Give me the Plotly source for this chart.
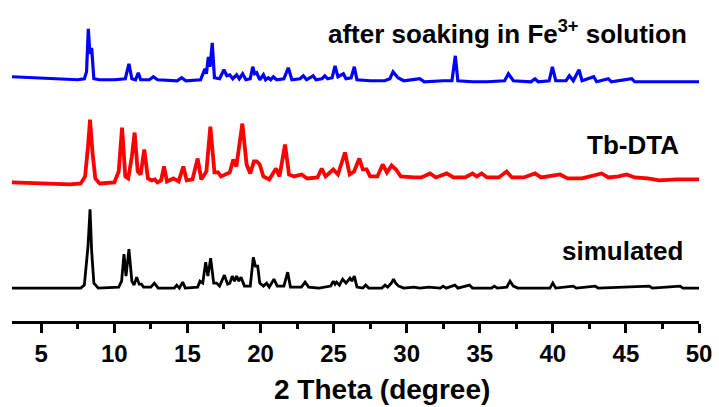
import plotly.graph_objects as go

# ---------------- data (2 Theta in degree, intensity in a.u.) ----------------
blue_x = [3.0, 4.5, 6.0, 7.5, 7.95, 8.1, 8.22, 8.33, 8.45, 8.6, 9.0, 10.0, 10.75, 11.0, 11.2, 11.45, 11.64, 11.8,
          12.4, 12.67, 12.95, 14.3, 14.6, 14.9, 15.9, 16.05, 16.2, 16.3, 16.43, 16.55, 16.7, 16.85, 17.2,
          17.5, 17.7, 17.9, 18.1, 18.37, 18.55, 18.78, 19.0, 19.3, 19.47, 19.6, 19.74, 19.95, 20.2, 20.35,
          20.54, 20.7, 20.88, 21.1, 21.6, 21.9, 22.15, 22.7, 22.93, 23.15, 23.6, 23.8, 24.2, 24.4, 24.6,
          24.9, 25.1, 25.3, 25.67, 25.85, 26.2, 26.42, 26.6, 27.5, 28.5, 28.85, 29.07, 29.4, 29.8, 30.9,
          31.2, 32.5, 33.1, 33.33, 33.5, 34.5, 35.5, 36.7, 36.96, 37.3, 38.5, 38.78, 39.0, 39.75, 39.97,
          40.2, 40.9, 41.13, 41.4, 41.79, 42.0, 42.8, 43.0, 43.8, 44.0, 45.4, 45.6, 47.0, 50.0]
blue_i = [35, 34, 33, 32, 33, 40, 83, 58, 64, 33, 32, 32, 33, 48, 33, 32, 39, 32,
          32, 35, 32, 31, 34, 31, 32, 38, 43, 38, 55, 45, 69, 34, 33,
          42, 36, 37, 33, 37, 33, 38, 32, 33, 45, 38, 39, 32, 37, 32,
          34, 32, 35, 32, 33, 44, 32, 33, 36, 32, 36, 32, 33, 36, 33,
          34, 46, 35, 38, 33, 34, 45, 32, 31, 31, 33, 40, 34, 31, 33,
          30, 31, 31, 56, 31, 30, 30, 31, 38, 31, 30, 33, 30, 31, 45,
          31, 31, 36, 31, 42, 31, 35, 30, 33, 30, 33, 30, 30, 30]

red_x = [3.0, 5.0, 7.0, 7.7, 8.0, 8.2, 8.34, 8.5, 8.7, 9.0, 10.0, 10.3, 10.53, 10.75, 10.95, 11.2, 11.39,
         11.6, 11.8, 12.05, 12.3, 12.55, 12.78, 12.95, 13.2, 13.4, 13.6, 14.04, 14.4, 14.72, 14.95, 15.35,
         15.7, 15.95, 16.3, 16.57, 16.85, 17.1, 17.3, 17.9, 18.14, 18.35, 18.76, 19.05, 19.3, 19.55, 19.74,
         19.95, 20.2, 20.6, 21.06, 21.3, 21.68, 21.95, 22.3, 22.82, 23.2, 23.9, 24.19, 24.45, 24.98, 25.3,
         25.78, 26.1, 26.4, 26.76, 27.0, 27.26, 27.5, 28.0, 28.36, 28.65, 28.97, 29.27, 29.6, 30.5, 31.0,
         31.6, 32.0, 32.74, 33.2, 34.0, 34.5, 34.8, 35.13, 35.5, 36.3, 36.84, 37.2, 38.0, 38.78, 39.2,
         40.5, 41.0, 42.0, 43.34, 43.8, 44.5, 45.05, 45.6, 46.5, 47.3, 48.5, 50.0]
red_i = [34, 33, 32, 33, 40, 70, 97, 65, 38, 33, 34, 45, 89, 40, 38, 60, 84,
         45, 42, 67, 38, 36, 37, 34, 36, 50, 35, 38, 35, 50, 36, 37,
         58, 37, 45, 90, 44, 44, 40, 44, 57, 50, 93, 52, 43, 55, 55,
         52, 40, 37, 48, 40, 72, 42, 40, 42, 38, 39, 48, 40, 47, 42,
         64, 42, 45, 58, 47, 47, 40, 40, 52, 44, 51, 47, 40, 39, 39,
         43, 39, 43, 39, 39, 43, 40, 43, 39, 39, 45, 39, 39, 43, 39,
         42, 38, 38, 43, 39, 40, 42, 39, 38, 36, 37, 37]

black_x = [3.0, 7.7, 7.95, 8.11, 8.2, 8.34, 8.45, 8.6, 8.9, 10.3, 10.5, 10.66, 10.8, 11.0, 11.2, 11.35,
           11.53, 11.7, 11.85, 12.0, 12.5, 12.74, 13.0, 14.1, 14.27, 14.45, 14.68, 14.85, 15.7, 15.86,
           16.05, 16.25, 16.4, 16.59, 16.8, 17.0, 17.2, 17.53, 17.75, 17.9, 18.07, 18.22, 18.37, 18.52,
           18.67, 18.9, 19.3, 19.51, 19.65, 19.81, 19.95, 20.2, 20.42, 20.6, 20.92, 21.15, 21.6, 21.86,
           22.05, 22.8, 23.05, 23.3, 24.0, 24.8, 24.98, 25.1, 25.2, 25.4, 25.62, 25.85, 26.12, 26.25,
           26.42, 26.6, 27.0, 27.2, 27.4, 28.3, 28.52, 28.7, 28.95, 29.1, 29.25, 29.45, 29.8, 30.5, 30.9,
           31.5, 32.3, 32.5, 32.7, 33.3, 33.5, 34.3, 34.5, 35.8, 36.0, 36.2, 36.85, 37.07, 37.3, 37.6,
           39.8, 40.0, 40.2, 41.4, 41.6, 42.9, 43.1, 46.6, 46.8, 48.7, 48.9, 50.0]
black_i = [33, 33, 36, 62, 75, 112, 70, 38, 33, 34, 40, 67, 45, 72, 40, 36,
           44, 37, 37, 34, 34, 38, 33, 33, 36, 33, 39, 33, 34, 40,
           38, 59, 45, 63, 38, 38, 35, 46, 37, 38, 45, 40, 45, 40,
           44, 35, 35, 64, 55, 55, 38, 35, 38, 34, 42, 35, 35, 49,
           34, 34, 39, 34, 33, 35, 40, 37, 39, 36, 42, 38, 43, 40,
           45, 34, 33, 36, 33, 33, 36, 34, 38, 42, 38, 35, 33, 34, 33,
           34, 33, 35, 33, 36, 33, 36, 33, 33, 35, 33, 34, 40, 35, 33,
           33, 38, 33, 35, 33, 35, 33, 35, 33, 35, 33, 33]

series_names = ["simulated", "Tb-DTA", "after soaking in Fe<sup>3+</sup> solution"]
tick_vals = [5, 10, 15, 20, 25, 30, 35, 40, 45, 50]
tick_text = ["5", "10", "15", "20", "25", "30", "35", "40", "45", "50"]
x_title = "2 Theta (degree)"

# ---------------- figure ----------------
offsets = [0, 105, 210]
colors = ["#000000", "#ff0000", "#0000ff"]
widths = [2.8, 3.8, 3.2]
xs = [black_x, red_x, blue_x]
ys = [black_i, red_i, blue_i]

fig = go.Figure()
for x, y, off, c, w, n in zip(xs, ys, offsets, colors, widths, series_names):
    fig.add_trace(go.Scatter(x=x, y=[v + off for v in y], mode="lines",
                             line=dict(color=c, width=w), name=n, showlegend=False,
                             hoverinfo="skip"))

FONT = "Liberation Sans, Arial, sans-serif"
label_pos = [(0.979, 0.218), (0.974, 0.549), (0.986, 0.898)]
for n, (px, py) in zip(series_names, label_pos):
    fig.add_annotation(text=n, xref="paper", yref="paper", x=px, y=py,
                       xanchor="right", yanchor="middle", showarrow=False,
                       font=dict(family=FONT, size=26, color="black", weight="bold"))

fig.add_annotation(text=x_title, xref="paper", yref="paper", x=0.539, y=-0.214,
                   xanchor="center", yanchor="middle", showarrow=False,
                   font=dict(family=FONT, size=28, color="black", weight="bold"))

fig.update_xaxes(range=[3, 50], tickvals=tick_vals, ticktext=tick_text,
                 showline=True, linecolor="black", linewidth=3,
                 ticks="outside", ticklen=9, tickwidth=3, tickcolor="black",
                 minor=dict(ticks="outside", ticklen=5, tickwidth=3, tickcolor="black",
                            dtick=2.5, tick0=0, showgrid=False),
                 showgrid=False, zeroline=False,
                 tickfont=dict(family=FONT, size=24, color="black", weight="bold"))
fig.update_yaxes(visible=False, range=[0, 322])

fig.update_layout(width=719, height=407, margin=dict(l=12, r=20, t=0, b=86),
                  plot_bgcolor="white", paper_bgcolor="white")

fig.write_html("out.html", config={"displayModeBar": False},
               post_script="document.body.style.margin='0px';")
